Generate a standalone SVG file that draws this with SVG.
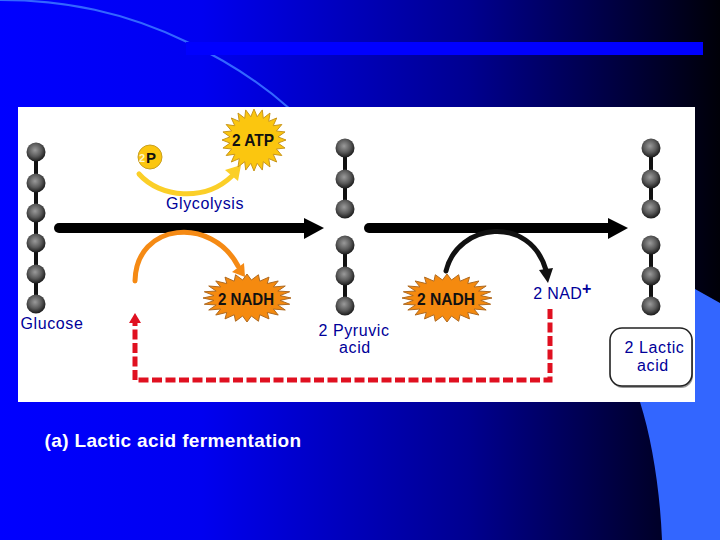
<svg xmlns="http://www.w3.org/2000/svg" width="720" height="540" viewBox="0 0 720 540">
<style>
.l{font-family:"Liberation Sans",Arial,sans-serif;font-size:16px;fill:#000099;text-anchor:middle;letter-spacing:.6px}
.s{font-family:"Liberation Sans",Arial,sans-serif;font-weight:bold;fill:#111;text-anchor:middle}
.stem{stroke:#111;stroke-width:4;fill:none}
.star{vector-effect:non-scaling-stroke;stroke-width:1}
.c{fill:none;stroke-linecap:round}
</style>
<defs>
<linearGradient id="bg" x1="0" y1="0" x2="1" y2="0">
<stop offset="0" stop-color="#0000ff"/><stop offset=".28" stop-color="#0000f0"/><stop offset=".65" stop-color="#000090"/><stop offset="1" stop-color="#000008"/>
</linearGradient>
<radialGradient id="bead" cx=".45" cy=".4" r=".62">
<stop offset="0" stop-color="#9a9a9a"/><stop offset=".55" stop-color="#5a5a5a"/><stop offset="1" stop-color="#151515"/>
</radialGradient>
<circle id="b" r="9.500" fill="url(#bead)"/>
<polygon id="st" class="star" points="100,0 75,10 97,26 70,29 87,50 60,46 71,71 46,60 50,87 29,70 26,97 10,75 0,100 -10,75 -26,97 -29,70 -50,87 -46,60 -71,71 -60,46 -87,50 -70,29 -97,26 -75,10 -100,0 -75,-10 -97,-26 -70,-29 -87,-50 -60,-46 -71,-71 -46,-60 -50,-87 -29,-70 -26,-97 -10,-75 0,-100 10,-75 26,-97 29,-70 50,-87 46,-60 71,-71 60,-46 87,-50 70,-29 97,-26 75,-10"/>
</defs>
<rect width="720" height="540" fill="url(#bg)"/>
<path d="M0,0 C65,0 125,12 187,42 C225,60 262,84 290,109" fill="none" stroke="#3366ff" stroke-width="2"/>
<path d="M720,303 L695,289 L695,402 L640,402 C652,440 660,490 662,540 L720,540 Z" fill="#3366ff"/>
<rect x="186" y="42" width="517" height="13" fill="#0000ff"/>
<rect x="18" y="107" width="677" height="295" fill="#fff"/>

<g id="connectors">
<path d="M59,228 H305" stroke="#000" stroke-width="10" stroke-linecap="round" fill="none"/>
<polygon points="304,218 324,228 304,239"/>
<path d="M369,228 H609" stroke="#000" stroke-width="10" stroke-linecap="round" fill="none"/>
<polygon points="608,218 628,228 608,239"/>
<path class="c" d="M139,174 C160,198 205,202 232,176" stroke="#fbcf28" stroke-width="5"/>
<polygon points="241,165 238,181 225,170" fill="#fbcf28"/>
<path class="c" d="M135,281 C136,222 212,216 238,266" stroke="#f58a14" stroke-width="5"/>
<polygon points="245,277 232,272 244,263" fill="#f58a14"/>
<path class="c" d="M446,271 C458,222 530,215 546,270" stroke="#111" stroke-width="5"/>
<polygon points="548,283 539,270 553,268" fill="#111"/>
<path d="M550,309 V380 H135 V322" fill="none" stroke="#e01020" stroke-width="5" stroke-dasharray="10 3.5"/>
<polygon points="135,313 141,323 129,323" fill="#e01020"/>
</g>

<g id="glucose">
<path class="stem" d="M36,152 V304"/>
<use href="#b" x="36" y="152"/><use href="#b" x="36" y="183"/><use href="#b" x="36" y="213"/><use href="#b" x="36" y="243"/><use href="#b" x="36" y="274"/><use href="#b" x="36" y="304"/>
<text class="l" x="52" y="329">Glucose</text>
</g>
<g id="pyruvic">
<path class="stem" d="M345,148 V209 M345,245 V306"/>
<use href="#b" x="345" y="148"/><use href="#b" x="345" y="179"/><use href="#b" x="345" y="209"/><use href="#b" x="345" y="245"/><use href="#b" x="345" y="276"/><use href="#b" x="345" y="306"/>
<text class="l" x="354" y="336">2 Pyruvic</text>
<text class="l" x="355" y="353">acid</text>
</g>
<g id="lactic">
<path class="stem" d="M651,148 V209 M651,245 V306"/>
<use href="#b" x="651" y="148"/><use href="#b" x="651" y="179"/><use href="#b" x="651" y="209"/><use href="#b" x="651" y="245"/><use href="#b" x="651" y="276"/><use href="#b" x="651" y="306"/>
<rect x="611" y="330" width="82" height="58" rx="12" fill="#999"/>
<rect x="610" y="328" width="82" height="58" rx="12" fill="#fff" stroke="#222" stroke-width="1.6"/>
<text class="l" x="654.500" y="353">2 Lactic</text>
<text class="l" x="653" y="371">acid</text>
</g>
<g id="phosphate">
<circle cx="150" cy="157" r="12" fill="#fbc60f" stroke="#c9a020"/>
<text class="s" x="142" y="162" font-size="11" style="fill:#fff6c8">2</text>
<text class="s" x="151" y="163" font-size="15">P</text>
</g>
<g id="atp">
<use href="#st" transform="translate(254,140) scale(.32,.31)" fill="#fbc60f" stroke="#c9961a"/>
<text class="s" x="253" y="146" font-size="17" textLength="42" lengthAdjust="spacingAndGlyphs">2 ATP</text>
</g>
<g id="nadh1">
<use href="#st" transform="translate(247,298) scale(.44,.24)" fill="#f58a0f" stroke="#b06a20"/>
<text class="s" x="246" y="305" font-size="17" textLength="56" lengthAdjust="spacingAndGlyphs">2 NADH</text>
</g>
<g id="nadh2">
<use href="#st" transform="translate(447,298) scale(.45,.24)" fill="#f58a0f" stroke="#b06a20"/>
<text class="s" x="446" y="305" font-size="17" textLength="58" lengthAdjust="spacingAndGlyphs">2 NADH</text>
</g>
<g id="labels">
<text class="l" x="205" y="209">Glycolysis</text>
<text class="l" x="562.500" y="299" style="letter-spacing:.3px">2 NAD<tspan font-size="16" dy="-5" font-weight="bold">+</tspan></text>
<text x="173" y="447" text-anchor="middle" font-family="'Liberation Sans',Arial,sans-serif" font-size="19" font-weight="bold" letter-spacing=".35" fill="#fff">(a) Lactic acid fermentation</text>
</g>
</svg>
